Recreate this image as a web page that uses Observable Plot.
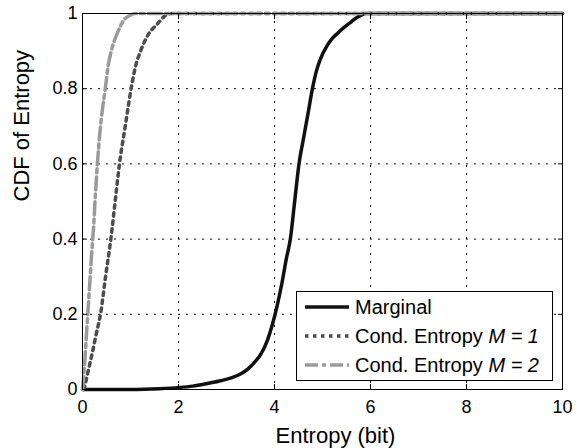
<!DOCTYPE html>
<html><head><meta charset="utf-8">
<script src="https://cdn.jsdelivr.net/npm/d3@7"></script>
<script src="https://cdn.jsdelivr.net/npm/@observablehq/plot@0.6"></script>
<style>
body{margin:0;background:#fff;}
#wrap{position:relative;width:580px;height:448px;font-family:"Liberation Sans",Arial,Helvetica,sans-serif;}
#legend{position:absolute;left:296px;top:291px;width:257px;height:90px;box-sizing:border-box;border:1px solid #000;background:#fff;}
#legend svg{display:block;}
</style></head><body><div id="wrap"></div>
<script>
const xTicks = [0, 2, 4, 6, 8, 10];
const yTicks = [0, 0.2, 0.4, 0.6, 0.8, 1];
const xLabel = "Entropy (bit)";
const yLabel = "CDF of Entropy";
const seriesNames = ["Marginal", "Cond. Entropy", "Cond. Entropy"];
const seriesM = [null, "M = 1", "M = 2"];

const marginalX = [0, 1.0, 1.6, 2.0, 2.3, 2.6, 2.9, 3.1, 3.3, 3.45, 3.6, 3.72, 3.85, 3.95, 4.05, 4.15, 4.25, 4.33, 4.42, 4.51, 4.6, 4.7, 4.79, 4.88, 4.96, 5.1, 5.2, 5.31, 5.45, 5.6, 5.7, 5.8, 5.9, 10];
const marginalY = [0, 0, 0.002, 0.005, 0.009, 0.016, 0.024, 0.031, 0.042, 0.055, 0.075, 0.095, 0.13, 0.17, 0.22, 0.28, 0.35, 0.4, 0.5, 0.6, 0.665, 0.735, 0.8, 0.85, 0.88, 0.915, 0.933, 0.947, 0.963, 0.978, 0.988, 0.995, 1, 1];

const m1X = [0.03, 0.06, 0.12, 0.2, 0.29, 0.375, 0.48, 0.6, 0.68, 0.77, 0.89, 1.02, 1.10, 1.21, 1.38, 1.56, 1.73, 1.85, 10];
const m1Y = [0, 0.016, 0.05, 0.095, 0.15, 0.2, 0.3, 0.41, 0.5, 0.6, 0.7, 0.805, 0.857, 0.9, 0.946, 0.972, 0.995, 1, 1];

const m2X = [0, 0.02, 0.05, 0.08, 0.11, 0.15, 0.19, 0.23, 0.27, 0.31, 0.36, 0.42, 0.48, 0.53, 0.6, 0.72, 0.86, 1.0, 1.1, 10];
const m2Y = [0, 0.03, 0.08, 0.14, 0.2, 0.28, 0.36, 0.43, 0.52, 0.6, 0.68, 0.75, 0.805, 0.857, 0.9, 0.946, 0.982, 0.996, 1, 1];

const toRows = (xs, ys) => xs.map((x, i) => ({x, y: ys[i]}));
const marginal = toRows(marginalX, marginalY);
const m1 = toRows(m1X, m1Y);
const m2 = toRows(m2X, m2Y);

const styles = [
  {stroke: "#111", strokeWidth: 3.5, strokeDasharray: null},
  {stroke: "#4d4d4d", strokeWidth: 3.5, strokeDasharray: "3.5,4.5"},
  {stroke: "#9a9a9a", strokeWidth: 3.5, strokeDasharray: "13,4,4,4"}
];

const gridStyle = {stroke: "#000", strokeOpacity: 1, strokeWidth: 1, strokeDasharray: "2,6"};
const fam = '"Liberation Sans", Arial, Helvetica, sans-serif';
const tickLen = 5;

const plot = Plot.plot({
  width: 580, height: 448,
  marginLeft: 82, marginTop: 13, marginRight: 18, marginBottom: 59,
  style: {fontFamily: fam, fontSize: "18px", color: "#000", background: "#fff"},
  x: {domain: [0, 10]},
  y: {domain: [0, 1]},
  marks: [
    Plot.gridX(xTicks.slice(1, -1), gridStyle),
    Plot.gridY(yTicks.slice(1, -1), gridStyle),
    Plot.line(marginal, {x: "x", y: "y", curve: "monotone-x", ...styles[0]}),
    Plot.line(m1, {x: "x", y: "y", curve: "monotone-x", ...styles[1]}),
    Plot.line(m2, {x: "x", y: "y", curve: "monotone-x", ...styles[2]}),
    Plot.frame({stroke: "#000", strokeWidth: 1}),
    Plot.axisX(xTicks, {anchor: "bottom", tickSize: 0, tickPadding: 11, label: null, tickFormat: d => String(d)}),
    Plot.axisX(xTicks, {anchor: "bottom", tickSize: tickLen, dy: -tickLen, tickFormat: () => "", label: null}),
    Plot.axisX(xTicks, {anchor: "top", tickSize: tickLen, dy: tickLen, tickFormat: () => "", label: null}),
    Plot.axisY(yTicks, {anchor: "left", tickSize: 0, tickPadding: 5, label: null, tickFormat: d => String(+d.toFixed(1))}),
    Plot.axisY(yTicks, {anchor: "left", tickSize: tickLen, dx: tickLen, tickFormat: () => "", label: null}),
    Plot.axisY(yTicks, {anchor: "right", tickSize: tickLen, dx: -tickLen, tickFormat: () => "", label: null}),
    Plot.text([xLabel], {text: d => d, frameAnchor: "bottom", lineAnchor: "bottom", dy: 53, dx: 13, fontSize: 22, fill: "#000"}),
    Plot.text([yLabel], {text: d => d, frameAnchor: "left", rotate: -90, lineAnchor: "bottom", dx: -54, fontSize: 22, fill: "#000"})
  ]
});

const wrap = document.getElementById("wrap");
wrap.appendChild(plot);

// legend overlay
const leg = document.createElement("div");
leg.id = "legend";
wrap.appendChild(leg);
const lsvg = d3.select(leg).append("svg").attr("width", 255).attr("height", 88);
const rowY = [15, 44, 73];
seriesNames.forEach((name, i) => {
  const g = lsvg.append("g").attr("transform", `translate(0,${rowY[i]})`);
  g.append("line").attr("x1", 8).attr("x2", 52).attr("y1", 0).attr("y2", 0)
    .attr("stroke", styles[i].stroke).attr("stroke-width", styles[i].strokeWidth)
    .attr("stroke-dasharray", styles[i].strokeDasharray);
  const t = g.append("text").attr("x", 58).attr("y", 7).attr("font-family", fam).attr("font-size", 20).attr("fill", "#000");
  t.append("tspan").text(name);
  if (seriesM[i]) t.append("tspan").attr("font-style", "italic").text(" " + seriesM[i]);
});
</script>
</body></html>
